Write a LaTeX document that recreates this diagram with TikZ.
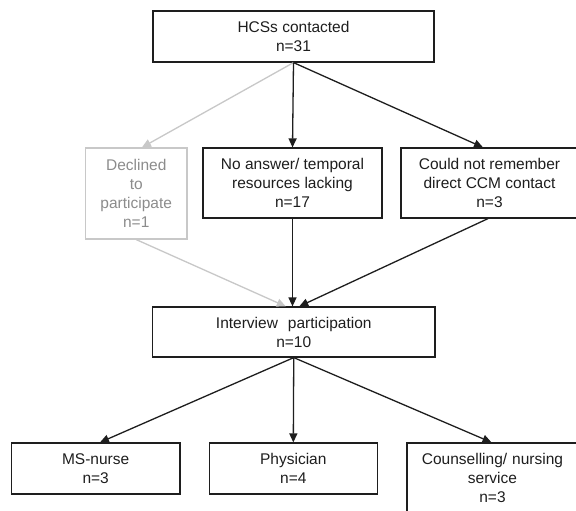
\documentclass[tikz,border=0pt]{standalone}
\usepackage{fontspec}
\setmainfont{Liberation Sans}
\usetikzlibrary{arrows.meta}
\definecolor{lightgr}{HTML}{C8C8C8}
\definecolor{textgr}{HTML}{8C8C8C}
\definecolor{ink}{HTML}{1E1E1E}
\begin{document}
\begin{tikzpicture}[x=1pt,y=-1pt,
  box/.style={draw=ink, line width=1.2pt, rectangle, inner sep=0pt, align=center,
    text=ink, font=\fontsize{15.5}{19}\selectfont},
  greybox/.style={box, draw=lightgr, text=textgr},
  arr/.style={draw=ink, line width=1.3pt, -{Triangle[length=9pt,width=8pt]}},
  greyarr/.style={arr, draw=lightgr, -{Triangle[length=9pt,width=8pt,fill=lightgr]}}]
\useasboundingbox (0,0) rectangle (576,511);
\fill[white] (0,0) rectangle (576,511);

\node[box, minimum width=281pt, minimum height=51pt] (top) at (293.5,36.5) {HCSs contacted\\n=31};
\node[greybox, minimum width=101.5pt, minimum height=91pt] (declined) at (136.25,193.5) {Declined\\to\\participate\\n=1};
\node[box, minimum width=179pt, minimum height=70pt] (noans) at (292.5,183) {No answer/ temporal\\resources lacking\\n=17};
\node[box, minimum width=177pt, minimum height=70pt] (couldnot) at (489.5,183) {Could not remember\\direct CCM contact\\n=3};
\node[box, minimum width=282.5pt, minimum height=50pt] (interview) at (293.75,332) {Interview\hspace{10pt}participation\\n=10};
\node[box, minimum width=168.7pt, minimum height=51pt] (msnurse) at (95.65,468.5) {MS-nurse\\n=3};
\node[box, minimum width=168pt, minimum height=51pt] (physician) at (293.3,468.5) {Physician\\n=4};
\node[box, minimum width=171pt, minimum height=70pt] (counsel) at (492.5,478) {Counselling/\hspace{5pt}nursing\\service\\n=3};

\draw[greyarr] (top.south) -- ([xshift=5.7pt]declined.north);
\draw[arr] (top.south) -- (noans.north);
\draw[arr] (top.south) -- ([xshift=-6.5pt]couldnot.north);

\draw[greyarr] (declined.south) -- ([xshift=-8pt]interview.north);
\draw[arr] (noans.south) -- (noans.south |- interview.north);
\draw[arr] ([xshift=-1.5pt]couldnot.south) -- ([xshift=5.5pt]interview.north);

\draw[arr] (interview.south) -- ([xshift=4.3pt]msnurse.north);
\draw[arr] (interview.south) -- (physician.north);
\draw[arr] (interview.south) -- ([xshift=-1pt]counsel.north);
\end{tikzpicture}
\end{document}
